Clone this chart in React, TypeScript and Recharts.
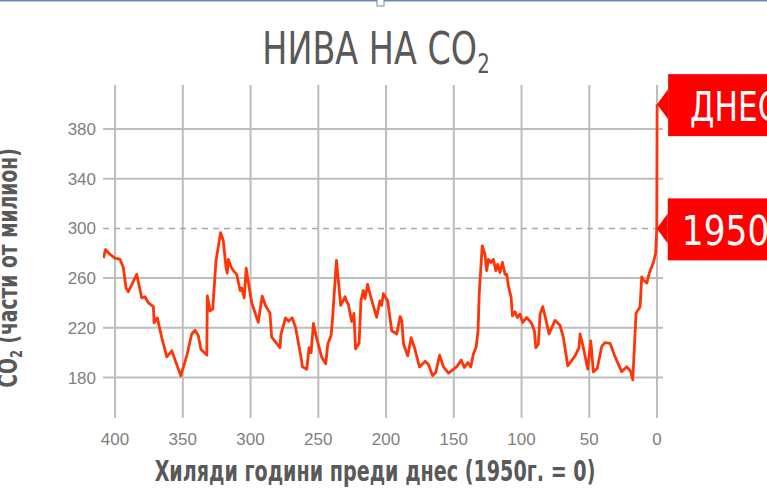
import React from "react";
import {
  LineChart,
  Line,
  XAxis,
  YAxis,
  ReferenceLine,
  ReferenceDot,
} from "recharts";

// thousands of years before 1950 (Vostok record)
const kyrBP = [
  408.6, 407, 403.7, 400, 396.3, 393.9, 391.9, 390.2, 384, 380.3, 377.9, 375.4,
  371.7, 371.2, 368.8, 365.5, 361.8, 358.1, 351.5, 347.1, 343.4, 340.9, 338.5,
  336.7, 332.3, 331.9, 329.9, 327.9, 325.5, 322.1, 320.1, 318.1, 317.2, 316.4,
  314.4, 312.7, 310.2, 307.7, 306.5, 304.7, 303.2, 301.7, 299.1, 294.3, 291.4,
  288.8, 285.7, 284.4, 278.3, 277.6, 274.2, 271.9, 269.3, 266.8, 262.7, 261.7,
  258.5, 256.8, 255.3, 253.6, 251.1, 247.4, 244.5, 243, 240.6, 239.6, 236.6,
  234.5, 233.5, 231, 230.3, 229, 227.8, 225.4, 224.3, 223.7, 222.5, 219.9,
  218.5, 216.8, 215.5, 213.6, 211.1, 206.9, 204.5, 203.2, 202, 198.8, 195.8,
  192.1, 189.6, 188.4, 187.1, 184, 181.5, 179, 175.3, 171.1, 168.7, 165.7,
  163.3, 160.5, 157.6, 153.9, 147.8, 144.5, 142.2, 139.6, 137.5, 135.5, 133.5,
  132.1, 131.2, 129, 127, 125.7, 124.5, 122.5, 120.8, 119, 117.6, 115.9, 114.1,
  112.2, 110.9, 109.7, 107.7, 106.7, 104.8, 103.1, 101.1, 99.1, 96.2, 92.5,
  90.5, 89.5, 87.6, 86.3, 84.4, 82.7, 79.7, 75.3, 71.6, 69.1, 65.9, 60.5, 57.6,
  56.8, 54.4, 51.1, 48.9, 47, 44.1, 40.8, 38.4, 34.7, 31, 26.1, 22.4, 19.4,
  17.9, 15.5, 12.5, 11.3, 10.1, 7.6, 5.7, 2.7, 1, 0.2, -0.06,
];

// CO2 in ppm
const co2 = [
  276, 283, 279, 276, 275, 268.5, 252, 249, 263, 244, 245, 240, 237, 224, 228,
  212, 196.6, 201.5, 181.3, 197.4, 215, 218, 213.5, 203, 198, 245.7, 233.6, 235,
  274, 296.6, 290, 268.5, 264, 275, 269, 266, 263, 250, 252, 244, 268, 257, 240,
  224.5, 245.5, 237.5, 232, 212.5, 204, 214.5, 228, 225.3, 228, 220.5, 196,
  188.6, 186.7, 204, 200, 223.5, 211, 196, 191, 207, 213.5, 225.6, 274.3, 250,
  238, 243, 245, 241, 239, 225, 228, 231.6, 203, 207.5, 242, 250, 243.5, 255,
  244, 228.5, 241.7, 238, 247.5, 241.7, 217.6, 215, 229, 226, 207, 197.4, 212,
  204, 188.5, 193, 190.5, 181.5, 184, 198, 188.5, 183.5, 188.7, 194, 188, 192,
  188.5, 199, 204.5, 217.6, 248, 286, 279, 266, 275, 272.6, 275, 266, 271,
  264.5, 272.6, 263, 263, 253.8, 244.4, 229.6, 233, 228.3, 231, 224.3, 228.3,
  223.5, 217.6, 204, 206.8, 231, 237, 229.6, 215, 226, 222, 212, 189.4, 197.4,
  204, 215, 204, 186.7, 209.5, 184.5, 187.4, 205, 208, 207.5, 196.8, 184.7,
  188.7, 184.7, 178, 231.6, 237, 261, 258.5, 256, 264, 272.5, 280, 300, 400,
];

const xTicks = [400, 350, 300, 250, 200, 150, 100, 50, 0];
const yTicks = [180, 220, 260, 300, 340, 380];
const solidLevels = [180, 220, 260, 340, 380];
const dashedLevel = 300;

const calloutLabels = ["ДНЕС", "1950"];
const calloutKyr = [-0.06, 0.2];
const calloutPpm = [400, 300];

const data = kyrBP.map((k, i) => ({ kyr: k, ppm: co2[i] }));

const headFont = "'DejaVu Sans', sans-serif";
const tickFont = "'Liberation Sans', Arial, sans-serif";
const gridColor = "#bdbdbd";
const lineColor = "#ff3508";
const calloutRed = "#ff0000";

function makeCallout(label: string) {
  return (props: any) => {
    const { cx, cy } = props;
    const left = cx + 11;
    const isYear = label === "1950";
    const tx = left + (isYear ? 14 : 22);
    const sx = isYear ? 0.86 : 0.78;
    return (
      <g>
        <polygon
          points={`${cx},${cy} ${left},${cy - 15} ${left},${cy + 15}`}
          fill={calloutRed}
        />
        <rect x={left} y={cy - 30} width={130} height={62} fill={calloutRed} />
        <text
          transform={`translate(${tx},${cy + 17}) scale(${sx},1)`}
          fill="#fff"
          fontSize={40}
          fontFamily={headFont}
        >
          {label}
        </text>
      </g>
    );
  };
}

export default function App() {
  return (
    <div
      style={{
        position: "absolute",
        left: 0,
        top: 0,
        width: 767,
        height: 500,
        background: "#fff",
        overflow: "hidden",
      }}
    >
      <LineChart
        width={767}
        height={500}
        data={data}
        margin={{ top: 85, right: 104, bottom: 0, left: 0 }}
      >
        <XAxis
          dataKey="kyr"
          type="number"
          domain={[-4.4, 408.9]}
          reversed
          allowDataOverflow
          ticks={xTicks}
          interval={0}
          height={82}
          tickLine={false}
          axisLine={false}
          tickSize={0}
          tickMargin={15}
          tick={{ fill: "#7f7f7f", fontSize: 17, fontFamily: tickFont }}
        />
        <YAxis
          type="number"
          domain={[147.4, 415.4]}
          allowDataOverflow
          ticks={yTicks}
          interval={0}
          width={103}
          tickLine={false}
          axisLine={false}
          tickSize={0}
          tickMargin={7}
          tick={{ fill: "#7f7f7f", fontSize: 17, fontFamily: tickFont }}
        />
        {xTicks.map((v) => (
          <ReferenceLine key={"x" + v} x={v} stroke={gridColor} strokeWidth={2} />
        ))}
        {solidLevels.map((v) => (
          <ReferenceLine key={"y" + v} y={v} stroke={gridColor} strokeWidth={2} />
        ))}
        <ReferenceLine
          y={dashedLevel}
          stroke="#aaaaaa"
          strokeWidth={1.5}
          strokeDasharray="6 5"
        />
        <Line
          type="linear"
          dataKey="ppm"
          stroke={lineColor}
          strokeWidth={2.8}
          strokeLinejoin="round"
          dot={false}
          isAnimationActive={false}
        />
        {calloutLabels.map((label, i) => (
          <ReferenceDot
            key={label}
            x={calloutKyr[i]}
            y={calloutPpm[i]}
            shape={makeCallout(label)}
          />
        ))}
      </LineChart>
      <svg
        width={767}
        height={500}
        style={{ position: "absolute", left: 0, top: 0, pointerEvents: "none" }}
      >
        <rect x={0} y={0} width={767} height={1.5} fill="#6a8cb4" />
        <rect
          x={377}
          y={-1}
          width={7}
          height={7}
          fill="#fff"
          stroke="#6a8cb4"
          strokeWidth={1}
        />
        <text
          transform="translate(376,64) scale(0.76,1)"
          textAnchor="middle"
          fontSize={44}
          fill="#595959"
          fontFamily={headFont}
        >
          НИВА НА CO
          <tspan fontSize={26} dy={9}>
            2
          </tspan>
        </text>
        <text
          transform="translate(17,268) rotate(-90) scale(0.72,1)"
          textAnchor="middle"
          fontSize={26}
          fontWeight="bold"
          fill="#595959"
          fontFamily={headFont}
        >
          CO
          <tspan fontSize={16} dy={5}>
            2
          </tspan>
          <tspan dy={-5}> (части от милион)</tspan>
        </text>
        <text
          transform="translate(375,481) scale(0.66,1)"
          textAnchor="middle"
          fontSize={29}
          fontWeight="bold"
          fill="#595959"
          fontFamily={headFont}
        >
          Хиляди години преди днес (1950г. = 0)
        </text>
      </svg>
    </div>
  );
}
